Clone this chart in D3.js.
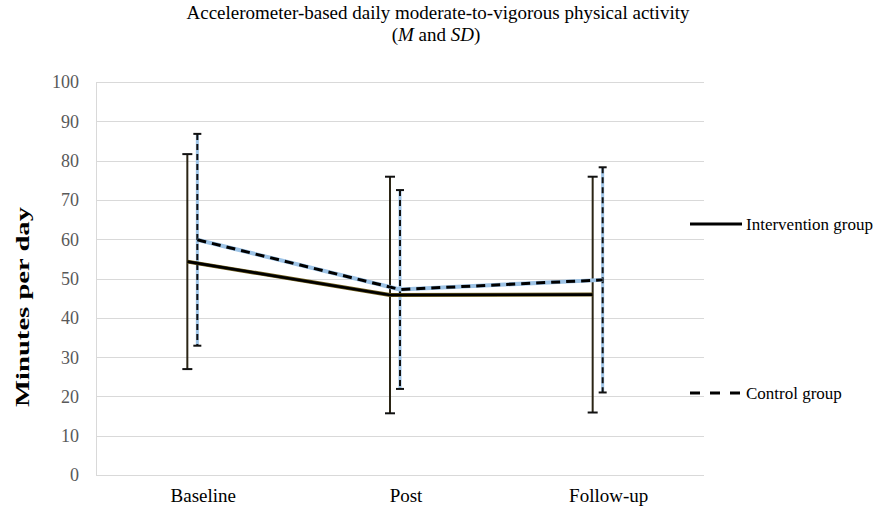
<!DOCTYPE html>
<html><head><meta charset="utf-8">
<script src="https://cdn.jsdelivr.net/npm/d3@7"></script>
<style>body{margin:0;background:#fff}svg{display:block}text{font-family:"Liberation Serif","Times New Roman",Tinos,serif}</style></head>
<body><svg id="c" width="877" height="511"></svg>
<script>
const categories = ["Baseline", "Post", "Follow-up"];
const interventionMean = [54.3, 45.8, 45.9];
const interventionSD = [27.35, 30.1, 30.0];
const controlMean = [59.85, 47.2, 49.65];
const controlSD = [26.95, 25.3, 28.65];
const yTicks = [0, 10, 20, 30, 40, 50, 60, 70, 80, 90, 100];
const seriesNames = ["Intervention group", "Control group"];

const svg = d3.select("#c");
const plotL = 96, plotR = 704, plotT = 82, plotB = 475;
const x = d3.scaleBand().domain(categories).range([plotL, plotR]).padding(0);
const y = d3.scaleLinear().domain([0, 100]).range([plotB, plotT]);
const offI = -10, offC = 0;

// gridlines
svg.append("g").selectAll("line").data(yTicks).join("line")
  .attr("x1", plotL).attr("x2", plotR)
  .attr("y1", d => Math.round(y(d)) + 0.5).attr("y2", d => Math.round(y(d)) + 0.5)
  .attr("stroke", "#d9d9d9").attr("stroke-width", 1);
// left axis line
svg.append("line").attr("x1", plotL + 0.5).attr("x2", plotL + 0.5).attr("y1", y(100)).attr("y2", y(0))
  .attr("stroke", "#d9d9d9");

// y tick labels
const yAxis = d3.axisLeft(y).tickValues(yTicks).tickSize(0).tickPadding(17);
const gy = svg.append("g").attr("transform", `translate(${plotL},0)`).call(yAxis);
gy.select(".domain").remove();
gy.attr("font-family", null);
gy.selectAll("text").attr("font-size", 18).attr("fill", "#595959").attr("dy", "0.33em");

// x labels
const xAxis = d3.axisBottom(x).tickSize(0).tickPadding(14);
const gx = svg.append("g").attr("transform", `translate(6,${plotB})`).call(xAxis);
gx.select(".domain").remove();
gx.attr("font-family", null);
gx.selectAll("text").attr("font-size", 19).attr("fill", "#000");

// title
const title = svg.append("text").attr("text-anchor", "middle").attr("font-size", 19).attr("fill", "#000");
title.append("tspan").attr("x", 438).attr("y", 19).text("Accelerometer-based daily moderate-to-vigorous physical activity");
const t2 = title.append("tspan").attr("x", 436).attr("y", 41);
t2.append("tspan").text("(");
t2.append("tspan").attr("font-style", "italic").text("M");
t2.append("tspan").text(" and ");
t2.append("tspan").attr("font-style", "italic").text("SD");
t2.append("tspan").text(")");

// y axis title
svg.append("text").attr("transform", "translate(29,307) rotate(-90)").attr("text-anchor", "middle")
  .attr("font-size", 18).attr("font-weight", "bold")
  .attr("textLength", 200).attr("lengthAdjust", "spacingAndGlyphs").text("Minutes per day");

const cx = (i, off) => x(categories[i]) + x.bandwidth() / 2 + off;

// error bars - intervention
const eb = svg.append("g");
categories.forEach((c, i) => {
  const xx = cx(i, offI);
  const y1 = y(interventionMean[i] + interventionSD[i]), y2 = y(interventionMean[i] - interventionSD[i]);
  eb.append("line").attr("x1", xx).attr("x2", xx).attr("y1", y1).attr("y2", y2).attr("stroke", "#2b2515").attr("stroke-width", 2);
  [y1, y2].forEach(yy => eb.append("line").attr("x1", xx - 5).attr("x2", xx + 5).attr("y1", yy).attr("y2", yy).attr("stroke", "#111").attr("stroke-width", 2));
});
// error bars - control
categories.forEach((c, i) => {
  const xx = cx(i, offC);
  const y1 = y(controlMean[i] + controlSD[i]), y2 = y(controlMean[i] - controlSD[i]);
  eb.append("line").attr("x1", xx).attr("x2", xx).attr("y1", y1).attr("y2", y2).attr("stroke", "#9dc3e6").attr("stroke-width", 3);
  eb.append("line").attr("x1", xx).attr("x2", xx).attr("y1", y1).attr("y2", y2).attr("stroke", "#111").attr("stroke-width", 2).attr("stroke-dasharray", "6,4");
  [y1, y2].forEach(yy => eb.append("line").attr("x1", xx - 4).attr("x2", xx + 4).attr("y1", yy).attr("y2", yy).attr("stroke", "#111").attr("stroke-width", 2));
});

// lines
const lineI = d3.line().x((d, i) => cx(i, offI)).y(d => y(d));
const lineC = d3.line().x((d, i) => cx(i, offC)).y(d => y(d));
svg.append("path").attr("d", lineI(interventionMean)).attr("fill", "none").attr("stroke", "#6b5a18").attr("stroke-width", 4).attr("stroke-linejoin", "round");
svg.append("path").attr("d", lineI(interventionMean)).attr("fill", "none").attr("stroke", "#000").attr("stroke-width", 2.6).attr("stroke-linejoin", "round");
svg.append("path").attr("d", lineC(controlMean)).attr("fill", "none").attr("stroke", "#9dc3e6").attr("stroke-width", 4).attr("stroke-linejoin", "round");
svg.append("path").attr("d", lineC(controlMean)).attr("fill", "none").attr("stroke", "#000").attr("stroke-width", 3).attr("stroke-dasharray", "9,6");

// legend
const leg = svg.append("g");
leg.append("line").attr("x1", 690).attr("x2", 742).attr("y1", 224).attr("y2", 224).attr("stroke", "#000").attr("stroke-width", 3);
leg.append("text").attr("x", 746).attr("y", 224).attr("dy", "0.33em").attr("font-size", 17).text(seriesNames[0]);
leg.append("line").attr("x1", 690).attr("x2", 742).attr("y1", 393).attr("y2", 393).attr("stroke", "#000").attr("stroke-width", 3).attr("stroke-dasharray", "10,10");
leg.append("text").attr("x", 746).attr("y", 393).attr("dy", "0.33em").attr("font-size", 17).text(seriesNames[1]);
</script></body></html>
